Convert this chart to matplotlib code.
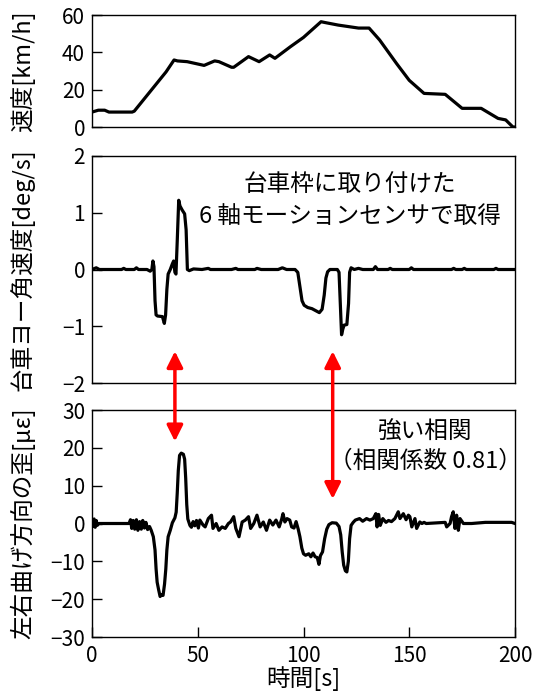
import matplotlib
matplotlib.use("Agg")
import matplotlib.pyplot as plt
from matplotlib.patches import ConnectionPatch

plt.rcParams['font.family'] = ['Noto Sans CJK JP', 'DejaVu Sans']

# ---------------- data ----------------
speed_t = [0, 3, 6, 8, 19, 20, 25, 30, 35, 38.8, 40.4, 45, 53, 58, 60, 66, 67, 74, 79,
           84, 86.5, 93.8, 100, 108.3, 110, 116.4, 126, 131, 136, 144, 150, 157, 167,
           175, 184, 192, 195.6, 199, 200]
speed_v = [8, 9, 9, 8, 8, 8.5, 15.5, 22.5, 29.5, 35.9, 35.4, 35, 33, 35.4, 35, 32, 32,
           37.7, 35, 38.6, 36.8, 43, 48, 56.4, 56, 54.6, 53, 53, 46.6, 34, 25, 18, 17.5,
           10, 10, 4.6, 3.8, 0, 0]

yaw_t = [0, 2, 3.5, 14, 15, 16, 20, 21, 22, 26, 27.5, 28.3, 28.8, 29.3, 29.8, 30.3, 31,
         33.3, 34.2, 34.8, 35.4, 36, 37, 38, 38.6, 39.2, 39.7, 40.3, 41, 41.6, 42.6, 43.8,
         44.5, 45.1, 46, 48, 52, 55, 56, 66, 68, 69, 77, 78, 80, 88, 90, 92, 96, 97.3,
         98.3, 99.3, 100.3, 102, 104, 106, 107.5, 108.8, 109.8, 110.6, 111.4, 112.5, 114,
         116, 116.8, 117.4, 118, 118.6, 119.2, 120.5, 121.3, 121.8, 122.5, 124, 126, 128,
         133, 134, 135, 140, 141, 142, 150, 151, 152, 170, 171, 172, 175, 176, 177, 190,
         191, 192, 200]
yaw_v = [0.0, 0.03, 0.0, 0.0, 0.02, 0.0, 0.0, 0.03, 0.0, 0.0, -0.03, 0.0, 0.15, 0.05,
         -0.55, -0.8, -0.82, -0.83, -0.95, -0.8, -0.35, -0.08, 0.0, 0.1, 0.15, -0.05, -0.08,
         0.5, 1.22, 1.12, 1.05, 0.98, 0.7, 0.0, -0.02, 0.01, 0.0, 0.02, 0.0, 0.0, 0.02, 0.0,
         0.0, 0.02, 0.0, 0.0, 0.03, 0.0, 0.0, -0.05, -0.3, -0.55, -0.63, -0.67, -0.69,
         -0.73, -0.76, -0.7, -0.45, -0.15, -0.04, 0.0, 0.0, 0.0, -0.05, -0.6, -1.15, -1.05,
         -0.98, -0.97, -0.6, -0.05, 0.03, 0.0, 0.02, 0.0, 0.0, 0.05, 0.0, 0.0, 0.02, 0.0,
         0.0, 0.03, 0.0, 0.0, 0.02, 0.0, 0.0, 0.02, 0.0, 0.0, 0.02, 0.0, 0.0]

strain_t = [0, 0.5, 1, 1.5, 2, 2.5, 3.2, 17.5, 18.2, 18.8, 19.5, 20.2, 21, 21.7, 22.5,
            23.3, 24, 24.8, 25.5, 26.3, 27.2, 28, 29, 29.8, 30.3, 30.8, 31.5, 32.2, 33,
            33.6, 34.3, 34.9, 35.4, 36, 37, 38, 39.2, 39.8, 40.3, 40.8, 41.4, 42.2, 43.2,
            43.8, 44.3, 44.8, 45.3, 46.3, 47, 47.8, 48.6, 49.4, 50.3, 51, 52.5, 53.5, 55,
            56.5, 57.2, 58.7, 60, 61.5, 63, 64.5, 65.5, 67, 68, 69.5, 71, 72.5, 74, 75,
            76.5, 78, 79.5, 81, 82.5, 84, 85.5, 87, 88.5, 89.7, 90.3, 91.2, 92.2, 93.5,
            94.4, 95.5, 96.5, 97.5, 98.3, 99.2, 100, 101, 102.5, 103.5, 104.5, 105.5,
            106.5, 107.3, 108, 109, 110, 111, 112, 113.5, 115.5, 116.8, 117.6, 118.3, 119,
            119.8, 120.5, 121.2, 121.8, 122.5, 123.5, 124.5, 126.5, 128, 129.8, 131.4,
            133, 134.2, 134.8, 135.5, 136.3, 137.5, 139, 140.2, 141.6, 143.2, 144.8,
            145.6, 147.2, 148.5, 149.6, 150.3, 151.2, 152.7, 153.5, 155, 156, 157, 158,
            167, 167.7, 169.3, 170, 170.8, 171.6, 172.4, 173.2, 174, 175.6, 179.5, 186,
            192, 198.4, 200]
strain_v = [0.5, -0.8, 1.2, -1.0, 0.8, -0.5, 0, 0, 1.0, -1.3, 0.8, -1.5, 1.0, -1.8, 0.5,
            -1.5, 0.8, -1.2, 0.3, -1.6, -0.8, -1.8, -3.5, -7, -12, -15.5, -17.5, -19.3,
            -18.8, -19, -16, -12, -7, -3.5, -1.8, 0.2, 1.5, 3, 8, 14, 18, 18.6, 18.3, 17,
            12, 5, 1.2, -0.5, -1.0, 0.5, -0.6, 0.8, -1.2, 0.9, -0.4, -0.9, 1.3, 2.2, -1.3,
            0, -1.8, -0.9, -1.3, 0, 0.4, 1.8, -1.3, -3.5, 0.4, 0.9, 1.8, -1.3, 0, 2.2,
            -0.9, 0.4, -1.8, 0.9, -0.4, 0.9, -0.9, 1.2, 2.6, 0.4, 1.3, 0.9, -0.9, -1.2,
            0.5, -1.5, -3.5, -6.5, -8, -8.4, -8, -8.8, -7.8, -8.8, -9, -10.8, -8.5, -7.5,
            -4, -1.5, -0.3, 0.2, 0.1, -0.8, -3, -7.5, -11, -12.5, -12.8, -10, -4, -0.5,
            0.3, 0.9, 1.3, 0.6, 1.3, 0.9, 1.3, 2.6, -0.9, 2.4, -0.5, 1.3, 0.3, 0.8, 0.5,
            1.3, 3.1, 1.3, 2.6, 1.0, 2.2, 1.8, -0.9, 1.3, -1.3, 0.4, 0, 0.3, 0, 0.3, -0.9,
            0, 1.8, 3.1, -1.3, 2.2, -1.8, 1.3, 0, 0, 0.3, 0.3, 0.3, 0]

speed_ticks = [0, 20, 40, 60]
yaw_ticks = [-2, -1, 0, 1, 2]
strain_ticks = [-30, -20, -10, 0, 10, 20, 30]
time_ticks = [0, 50, 100, 150, 200]

# ---------------- figure ----------------
W, H = 536, 693
fig = plt.figure(figsize=(W / 100, H / 100), dpi=100)

left = 92 / W
width = (515 - 92) / W
ax1 = fig.add_axes([left, 1 - 127 / H, width, 112 / H])
ax2 = fig.add_axes([left, 1 - 383 / H, width, 227 / H])
ax3 = fig.add_axes([left, 1 - 637 / H, width, 227 / H])

FS = 15
LFS = 17
LW = 2.3

ax1.plot(speed_t, speed_v, color='black', lw=LW)
ax2.plot(yaw_t, yaw_v, color='black', lw=LW)
ax3.plot(strain_t, strain_v, color='black', lw=LW)

for ax, ticks, lim in [(ax1, speed_ticks, (0, 60)), (ax2, yaw_ticks, (-2, 2)),
                       (ax3, strain_ticks, (-30, 30))]:
    ax.set_xlim(0, 200)
    ax.set_ylim(*lim)
    ax.set_yticks(ticks)
    ax.tick_params(axis='y', direction='in', length=7, width=1, labelsize=FS, pad=5,
                   right=False)
    for s in ax.spines.values():
        s.set_linewidth(1.0)
        s.set_color('black')
    ax.yaxis.set_label_coords(-0.135, 0.5)

for ax in (ax1, ax2):
    ax.set_xticks([])

ax3.set_xticks(time_ticks)
ax3.tick_params(axis='x', direction='in', length=7, width=1, labelsize=FS, pad=6,
                top=False)

ax1.set_ylabel('速度[km/h]', fontsize=LFS)
ax2.set_ylabel('台車ヨー角速度[deg/s]', fontsize=LFS)
ax3.set_ylabel('左右曲げ方向の歪[με]', fontsize=LFS)
ax3.set_xlabel('時間[s]', fontsize=LFS)
ax3.xaxis.set_label_coords(0.5, -0.13)

ax2.text(122, 1.5, '台車枠に取り付けた', fontsize=LFS, ha='center', va='center')
ax2.text(122, 0.94, '6 軸モーションセンサで取得', fontsize=LFS, ha='center', va='center')
ax3.text(157.5, 24.2, '強い相関', fontsize=LFS, ha='center', va='center')
ax3.text(157.5, 16.4, '（相関係数 0.81）', fontsize=LFS, ha='center', va='center')

for xa, ya, yb in [(39.2, -1.44, 21.7), (113.8, -1.44, 6.5)]:
    cp = ConnectionPatch(xyA=(xa, ya), coordsA=ax2.transData,
                         xyB=(xa, yb), coordsB=ax3.transData,
                         arrowstyle='<|-|>', color='red', lw=2.5,
                         mutation_scale=24, shrinkA=0, shrinkB=0)
    fig.add_artist(cp)

fig.savefig('out.png', dpi=100)
